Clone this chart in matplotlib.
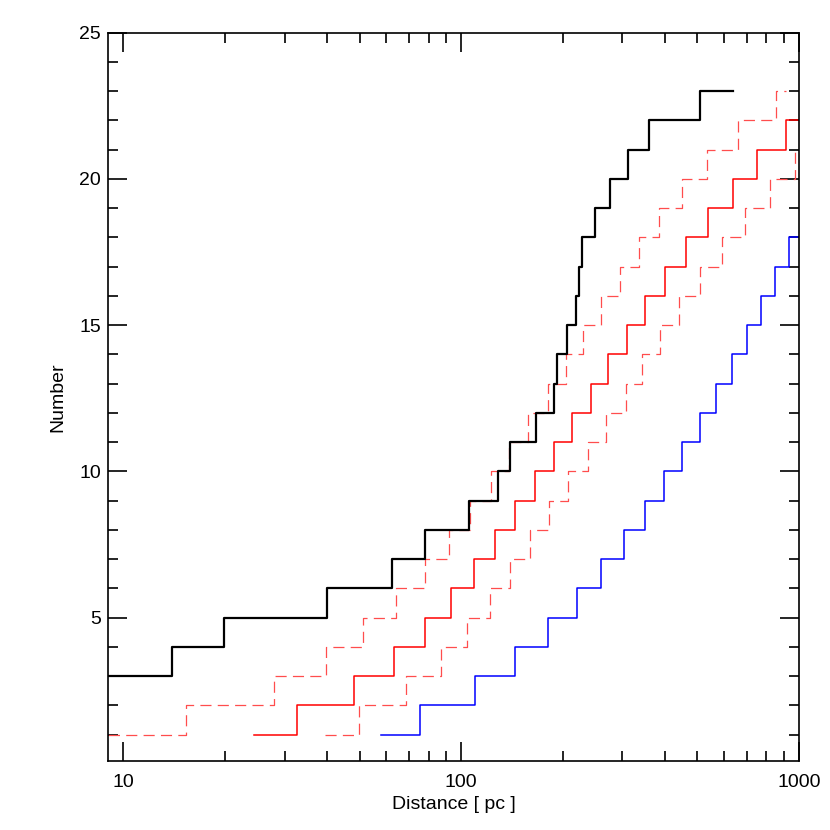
import matplotlib
matplotlib.use("Agg")
import matplotlib.pyplot as plt
from matplotlib.ticker import FixedLocator, NullFormatter, FixedFormatter

plt.rcParams['font.family'] = ['Liberation Sans', 'DejaVu Sans']
plt.rcParams['lines.scale_dashes'] = False

# Cumulative counts vs distance (step positions in pc)
black_x = [8.0, 13.9, 19.9, 40.0, 62.5, 78.3, 105.2, 128.5, 139.9, 165.9, 188.4, 191.9,
           205.3, 218.4, 223.4, 228.0, 249.1, 275.4, 311.5, 360.1, 508.8, 636.3]
black_y = [3, 4, 5, 6, 7, 8, 9, 10, 11, 12, 13, 14, 15, 16, 17, 18, 19, 20, 21, 22, 23, 23]

red_x = [24.4, 32.6, 48.1, 63.2, 78.0, 93.3, 109.4, 125.7, 143.8, 164.8, 187.6, 213.0,
         241.4, 272.6, 308.8, 349.8, 401.8, 462.7, 538.6, 636.3, 750.6, 913.1, 1100.0]
red_y = [1, 2, 3, 4, 5, 6, 7, 8, 9, 10, 11, 12, 13, 14, 15, 16, 17, 18, 19, 20, 21, 22, 22]

dash_hi_x = [8.0, 15.3, 27.9, 39.8, 51.3, 64.0, 78.1, 92.0, 106.0, 122.3, 138.5, 157.7,
             180.8, 204.0, 228.6, 258.5, 294.9, 335.7, 384.7, 449.3, 535.0, 658.2, 855.1, 915.1]
dash_hi_y = [1, 2, 3, 4, 5, 6, 7, 8, 9, 10, 11, 12, 13, 14, 15, 16, 17, 18, 19, 20, 21, 22, 23, 23]

dash_lo_x = [39.4, 49.8, 68.5, 87.0, 104.3, 121.7, 139.9, 159.6, 181.3, 207.2, 237.0,
             268.5, 306.6, 342.0, 387.3, 441.9, 508.8, 590.2, 693.3, 822.2, 971.2, 1100.0]
dash_lo_y = [1, 2, 3, 4, 5, 6, 7, 8, 9, 10, 11, 12, 13, 14, 15, 16, 17, 18, 19, 20, 21, 21]

blue_x = [57.7, 75.3, 110.2, 144.4, 180.8, 219.5, 259.5, 303.0, 349.0, 398.1, 450.2,
          508.8, 568.9, 633.2, 699.8, 773.2, 849.0, 932.3, 1100.0]
blue_y = [1, 2, 3, 4, 5, 6, 7, 8, 9, 10, 11, 12, 13, 14, 15, 16, 17, 18, 18]

x_major = [10, 100, 1000]
x_major_labels = ["10", "100", "1000"]
x_minor = [20, 30, 40, 50, 60, 70, 80, 90, 200, 300, 400, 500, 600, 700, 800, 900]
y_major = [5, 10, 15, 20, 25]
y_minor = [1, 2, 3, 4, 6, 7, 8, 9, 11, 12, 13, 14, 16, 17, 18, 19, 21, 22, 23, 24]

fig = plt.figure(figsize=(8.3, 8.3), dpi=100)
ax = fig.add_axes([0.1301, 0.0831, 0.8326, 0.8775])

dash = (0, (8.0, 4.5))
ax.step(dash_hi_x, dash_hi_y, where='post', color='#ff4d4d', lw=0.9, linestyle=dash)
ax.step(dash_lo_x, dash_lo_y, where='post', color='#ff4d4d', lw=0.9, linestyle=dash)
ax.step(red_x, red_y, where='post', color='#ff0000', lw=1.1)
ax.step(blue_x, blue_y, where='post', color='#0000ff', lw=1.1)
ax.step(black_x, black_y, where='post', color='black', lw=1.6)

ax.set_xscale('log')
ax.set_xlim(9, 1000)
ax.set_ylim(0.1, 25)

ax.xaxis.set_major_locator(FixedLocator(x_major))
ax.xaxis.set_major_formatter(FixedFormatter(x_major_labels))
ax.xaxis.set_minor_locator(FixedLocator(x_minor))
ax.xaxis.set_minor_formatter(NullFormatter())
ax.yaxis.set_major_locator(FixedLocator(y_major))
ax.yaxis.set_minor_locator(FixedLocator(y_minor))
ax.yaxis.set_minor_formatter(NullFormatter())

ax.tick_params(which='both', direction='in', top=True, right=True, width=1.2,
               labelsize=14, colors='black')
ax.tick_params(which='major', length=14)
ax.tick_params(which='minor', length=7)
ax.tick_params(axis='x', which='major', pad=9.5)
ax.tick_params(axis='y', which='major', pad=5)
for s in ax.spines.values():
    s.set_linewidth(1.2)

ax.set_xlabel("Distance [ pc ]", fontsize=14, labelpad=3.5)
ax.set_ylabel("Number", fontsize=14, labelpad=9)

fig.savefig("out.png", dpi=100)
